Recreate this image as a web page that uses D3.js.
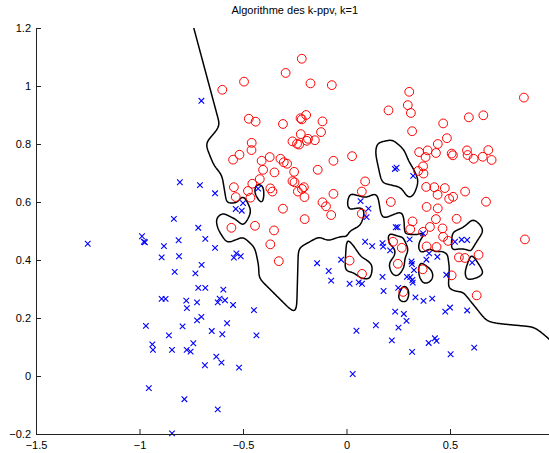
<!DOCTYPE html>
<html>
<head>
<meta charset="utf-8">
<script src="https://cdn.jsdelivr.net/npm/d3@7"></script>
<style>
  body { margin: 0; background: #fff; }
  svg { display: block; }
  text { font-family: "Liberation Sans", Arial, Helvetica, sans-serif; }
</style>
</head>
<body>
<div id="chart"></div>
<script>
// class 1: red circles
const redPoints = [
  [-0.216,1.094],[-0.294,1.045],[-0.495,1.015],[-0.174,1.009],[-0.071,1.003],[-0.600,0.987],
  [-0.472,0.887],[-0.439,0.877],[-0.307,0.869],[-0.222,0.889],[-0.216,0.885],[-0.195,0.900],
  [-0.116,0.878],[-0.123,0.841],[-0.221,0.834],[-0.261,0.809],[-0.239,0.801],[-0.229,0.798],
  [-0.192,0.811],[-0.186,0.818],[-0.153,0.813],[-0.458,0.804],[-0.459,0.779],[-0.517,0.763],
  [-0.548,0.746],[-0.410,0.742],[-0.371,0.755],[-0.319,0.749],[-0.303,0.737],[-0.287,0.732],
  [-0.063,0.742],[0.027,0.758],
  [-0.403,0.711],[-0.348,0.702],[-0.253,0.704],[-0.139,0.711],[0.090,0.671],[-0.544,0.651],
  [-0.455,0.663],[-0.419,0.679],[-0.476,0.638],[-0.535,0.617],[-0.464,0.615],[-0.368,0.647],
  [-0.358,0.636],[-0.261,0.672],[-0.251,0.668],[-0.235,0.636],[-0.215,0.645],[-0.206,0.651],
  [-0.203,0.617],[-0.063,0.628],[-0.116,0.599],[-0.099,0.585],[-0.074,0.555],[-0.307,0.577],
  [-0.202,0.541],[0.074,0.636],[0.074,0.560],[-0.556,0.511],[-0.442,0.518],[-0.350,0.502],
  [-0.368,0.454],[-0.327,0.396],[0.015,0.398],[0.075,0.352],
  [0.303,0.980],[0.296,0.934],[0.203,0.916],[0.311,0.907],[0.857,0.960],[0.467,0.871],
  [0.591,0.892],[0.661,0.899],[0.317,0.844],[0.485,0.820],[0.441,0.800],[0.351,0.772],
  [0.392,0.778],[0.382,0.755],[0.432,0.769],[0.508,0.767],[0.514,0.761],[0.582,0.778],
  [0.585,0.762],[0.614,0.749],[0.658,0.756],[0.685,0.779],[0.701,0.745],[0.370,0.723],
  [0.346,0.707],[0.372,0.698],[0.385,0.652],[0.424,0.651],[0.475,0.648],[0.440,0.625],
  [0.496,0.611],[0.515,0.618],[0.573,0.636],[0.674,0.601],[0.214,0.600],[0.387,0.583],
  [0.441,0.578],[0.532,0.542],[0.432,0.541],[0.319,0.533],[0.308,0.506],[0.403,0.514],
  [0.370,0.497],[0.464,0.509],[0.467,0.480],[0.491,0.466],[0.862,0.471],[0.225,0.463],
  [0.267,0.442],[0.387,0.447],[0.435,0.445],[0.543,0.409],[0.572,0.407],[0.638,0.418],
  [0.248,0.387],[0.368,0.368],[0.508,0.347],[0.274,0.290],[0.629,0.278]
];

// class 2: blue crosses
const bluePoints = [
  [-0.701,0.949],[-0.805,0.668],[-0.708,0.658],[-0.635,0.630],[-0.834,0.542],[-0.716,0.511],
  [-0.682,0.473],[-1.250,0.456],[-0.988,0.482],[-0.979,0.463],[-0.974,0.461],[-0.882,0.448],
  [-0.811,0.468],[-0.635,0.442],[-0.893,0.409],[-0.809,0.413],[-0.700,0.383],[-0.830,0.359],
  [-0.730,0.354],[-0.716,0.304],[-0.682,0.304],[-0.893,0.266],[-0.874,0.266],[-0.774,0.260],
  [-0.722,0.254],[-0.771,0.234],[-0.722,0.192],[-0.701,0.204],[-0.969,0.173],[-0.792,0.171],
  [-0.651,0.155],[-0.858,0.140],[-0.938,0.109],[-0.935,0.090],[-0.843,0.090],[-0.772,0.090],
  [-0.753,0.084],[-0.740,0.113],[-0.684,0.037],[-0.629,0.067],[-0.604,0.046],[-0.955,-0.042],
  [-0.783,-0.080],[-0.843,-0.198],[-0.577,0.182],[-0.600,0.144],[-0.435,0.140],[-0.519,0.029],
  [-0.622,-0.115],[-0.447,0.227],[-0.548,0.245],[-0.595,0.298],[-0.613,0.267],[-0.622,0.254],
  [-0.587,0.261],[-0.532,0.423],[-0.544,0.408],[-0.511,0.413],[-0.500,0.596],[-0.535,0.576],
  [-0.506,0.570],[-0.427,0.646],[-0.142,0.389],[-0.026,0.401],[-0.086,0.362],[-0.074,0.329],
  [0.015,0.318],[0.059,0.323],[0.075,0.318],[0.068,0.603],[0.106,0.577],[0.097,0.548],
  [0.090,0.463],[0.124,0.448],[0.174,0.458],[0.177,0.446],[0.211,0.433],[0.179,0.293],
  [0.174,0.342],[0.048,0.156],[0.142,0.175],[0.030,0.007],[0.234,0.714],[0.242,0.718],
  [0.322,0.690],[0.238,0.513],[0.247,0.513],[0.305,0.471],[0.370,0.492],[0.524,0.463],
  [0.556,0.470],[0.583,0.469],[0.399,0.423],[0.439,0.411],[0.386,0.401],[0.607,0.391],
  [0.314,0.395],[0.316,0.386],[0.326,0.365],[0.292,0.342],[0.308,0.341],
  [0.318,0.331],[0.320,0.322],[0.482,0.349],[0.250,0.304],[0.333,0.271],[0.372,0.259],
  [0.414,0.267],[0.500,0.236],[0.583,0.226],[0.235,0.222],[0.277,0.214],[0.290,0.190],
  [0.251,0.167],[0.219,0.123],[0.317,0.083],[0.477,0.222],[0.427,0.130],[0.435,0.121],
  [0.397,0.114],[0.503,0.075],[0.617,0.098]
];

const xTicks = [-1.5, -1, -0.5, 0, 0.5];
const xTickLabels = ["\u22121.5", "\u22121", "\u22120.5", "0", "0.5"];
const yTicks = [-0.2, 0, 0.2, 0.4, 0.6, 0.8, 1, 1.2];
const yTickLabels = ["\u22120.2", "0", "0.2", "0.4", "0.6", "0.8", "1", "1.2"];

const width = 549, height = 453;
const plotLeft = 36, plotRight = 553.5, plotTop = 28, plotBottom = 434;

const x = d3.scaleLinear().domain([-1.5, 1]).range([plotLeft, plotRight]);
const y = d3.scaleLinear().domain([-0.2, 1.2]).range([plotBottom, plotTop]);

const svg = d3.select("#chart").append("svg")
    .attr("width", width)
    .attr("height", height);

svg.append("defs").append("clipPath")
    .attr("id", "plotClip")
    .append("rect")
    .attr("x", plotLeft).attr("y", plotTop)
    .attr("width", width - plotLeft).attr("height", plotBottom - plotTop);

// 1-NN decision boundary: distance to nearest blue minus distance to nearest red
const step = 0.004;
const gx0 = -1.7, gx1 = 1.2, gy0 = -0.4, gy1 = 1.4;
const nx = Math.round((gx1 - gx0) / step) + 1;
const ny = Math.round((gy1 - gy0) / step) + 1;
const redDel = d3.Delaunay.from(redPoints);
const blueDel = d3.Delaunay.from(bluePoints);
const grid = new Float64Array(nx * ny);
let hr = 0, hb = 0;
for (let j = 0; j < ny; j++) {
    const gy = gy0 + j * step;
    for (let i = 0; i < nx; i++) {
        const gx = gx0 + i * step;
        hr = redDel.find(gx, gy, hr);
        hb = blueDel.find(gx, gy, hb);
        const dr = Math.hypot(gx - redPoints[hr][0], gy - redPoints[hr][1]);
        const db = Math.hypot(gx - bluePoints[hb][0], gy - bluePoints[hb][1]);
        grid[j * nx + i] = db - dr;
    }
}
// soften the corners a little, like the coarse grid of the original
if (d3.blur2) d3.blur2({data: grid, width: nx, height: ny}, 3);

const contours = d3.contours().size([nx, ny]).thresholds([0])(grid);
const toPlot = d3.geoTransform({
    point: function (px, py) {
        this.stream.point(x(gx0 + (px - 0.5) * step), y(gy0 + (py - 0.5) * step));
    }
});

svg.append("g")
    .attr("clip-path", "url(#plotClip)")
    .selectAll("path")
    .data(contours)
    .enter()
    .append("path")
    .attr("d", d3.geoPath(toPlot))
    .attr("fill", "none")
    .attr("stroke", "#000")
    .attr("stroke-width", 1.5)
    .attr("stroke-linejoin", "round");

// points
svg.append("g")
    .selectAll("circle")
    .data(redPoints)
    .enter()
    .append("circle")
    .attr("cx", d => x(d[0]))
    .attr("cy", d => y(d[1]))
    .attr("r", 4.4)
    .attr("fill", "none")
    .attr("stroke", "#ff0000")
    .attr("stroke-width", 1);

svg.append("g")
    .selectAll("path")
    .data(bluePoints)
    .enter()
    .append("path")
    .attr("transform", d => "translate(" + x(d[0]) + "," + y(d[1]) + ")")
    .attr("d", "M-2.8,-2.8L2.8,2.8M-2.8,2.8L2.8,-2.8")
    .attr("stroke", "#0000ff")
    .attr("stroke-width", 1.1);

// axes
const xAxis = svg.append("g")
    .attr("transform", "translate(0," + plotBottom + ")")
    .call(d3.axisBottom(x).tickValues(xTicks)
        .tickFormat((d, i) => xTickLabels[i])
        .tickSizeInner(-5).tickSizeOuter(0).tickPadding(7));

const yAxis = svg.append("g")
    .attr("transform", "translate(" + plotLeft + ",0)")
    .call(d3.axisLeft(y).tickValues(yTicks)
        .tickFormat((d, i) => yTickLabels[i])
        .tickSizeInner(-5).tickSizeOuter(0).tickPadding(5));

[xAxis, yAxis].forEach(a => {
    a.selectAll("text").attr("font-size", 11).attr("fill", "#000")
        .style("font-family", "'Liberation Sans', Arial, sans-serif");
    a.selectAll("path, line").attr("stroke", "#222");
});

svg.append("text")
    .attr("x", (plotLeft + plotRight) / 2)
    .attr("y", 14)
    .attr("text-anchor", "middle")
    .attr("font-size", 11)
    .text("Algorithme des k-ppv, k=1");
</script>
</body>
</html>
